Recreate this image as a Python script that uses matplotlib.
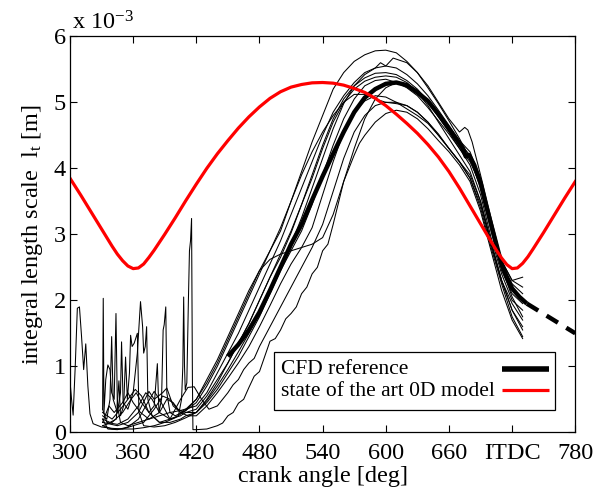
import matplotlib
matplotlib.use("Agg")
import matplotlib.pyplot as plt
from matplotlib.lines import Line2D
from matplotlib.patches import Rectangle

plt.rcParams['font.family'] = ['Liberation Serif', 'DejaVu Serif']
plt.rcParams['mathtext.fontset'] = 'custom'
plt.rcParams['mathtext.rm'] = 'Liberation Serif'
plt.rcParams['mathtext.it'] = 'Liberation Serif:italic'

# ---------------- data (length scale in units of 1e-3 m) ----------------
grid = [420, 430, 440, 450, 460, 470, 480, 490, 500, 510, 520, 530, 540, 550, 560, 570,
        580, 590, 600, 610, 620, 630, 640, 650, 660, 670, 680, 690, 700, 710, 720, 730]

c1_early_deg = [300, 301.5, 303, 305, 307, 309, 311, 313, 315, 317, 319, 322, 330, 340, 350, 360, 370, 380, 390, 400, 410]
c1_early_val = [0.78, 0.5, 0.26, 1.0, 1.88, 1.9, 1.45, 0.95, 1.34, 0.7, 0.28, 0.13, 0.08, 0.06, 0.05, 0.05, 0.07, 0.1, 0.15, 0.22, 0.33]
c1_main_val = [0.5, 0.75, 1.05, 1.4, 1.75, 2.1, 2.45, 2.75, 3.05, 3.5, 3.95, 4.4, 4.8, 5.2, 5.45, 5.62,
               5.72, 5.78, 5.79, 5.75, 5.62, 5.45, 5.22, 4.98, 4.72, 4.45, 4.15, 3.7, 3.1, 2.5, 2.05, 1.75]

c2_deg = [331, 331.6, 332.3, 334, 336, 338, 339.6, 342, 343.7, 345, 348, 355, 365, 375, 385, 395, 405,
          420, 430, 440, 450, 460, 470, 480, 490, 500, 510, 520, 530, 540, 550, 560, 570, 580, 590,
          595, 600, 607, 620, 630, 640, 650, 660, 670, 675, 678, 682, 690, 700, 710, 720, 730]
c2_val = [0.35, 2.03, 0.3, 0.8, 1.02, 0.95, 0.6, 0.5, 1.8, 0.4, 0.15, 0.1, 0.15, 0.2, 0.25, 0.3, 0.33,
          0.4, 0.6, 0.9, 1.2, 1.5, 1.85, 2.2, 2.55, 2.9, 3.3, 3.7, 4.1, 4.5, 4.85, 5.1, 5.3, 5.45, 5.52,
          5.6, 5.55, 5.67, 5.6, 5.45, 5.25, 5.0, 4.75, 4.55, 4.62, 4.58, 4.4, 3.9, 3.25, 2.6, 2.3, 2.2]

c3_early_deg = [331, 335, 338, 339.6, 341, 345, 348, 349, 350.5, 355, 360, 364, 367, 369, 370, 371.5, 372.8, 374, 378, 385, 395, 405, 410]
c3_early_val = [0.25, 0.2, 0.5, 1.45, 0.5, 0.3, 0.6, 1.37, 0.45, 0.35, 0.6, 1.2, 1.98, 1.6, 1.2, 1.3, 1.6, 0.5, 0.25, 0.15, 0.2, 0.25, 0.3]
c3_main_val = [0.35, 0.55, 0.8, 1.05, 1.35, 1.65, 2.0, 2.35, 2.65, 3.02, 3.45, 3.9, 4.35, 4.75, 5.05, 5.25,
               5.37, 5.44, 5.45, 5.42, 5.33, 5.2, 5.02, 4.82, 4.6, 4.38, 4.2, 3.75, 3.05, 2.45, 2.1, 1.95]

c4_early_deg = [331, 338, 344, 346.5, 348, 351, 352.8, 354.5, 356.5, 357.6, 359, 361, 364, 365.5, 370, 380, 390, 400, 410]
c4_early_val = [0.2, 0.15, 0.2, 0.78, 0.25, 0.4, 1.14, 0.5, 0.9, 1.47, 1.3, 1.35, 1.5, 0.3, 0.1, 0.08, 0.1, 0.15, 0.22]
c4_main_val = [0.3, 0.5, 0.75, 1.05, 1.35, 1.65, 2.0, 2.35, 2.7, 3.05, 3.45, 3.85, 4.3, 4.7, 5.0, 5.2,
               5.32, 5.38, 5.4, 5.38, 5.3, 5.15, 4.95, 4.7, 4.45, 4.2, 3.95, 3.5, 2.85, 2.3, 1.85, 1.6]

c5_early_deg = [331, 340, 350, 358, 363, 368, 375, 380, 383, 384.5, 387, 388.5, 389.5, 391, 392, 395, 400, 410]
c5_early_val = [0.1, 0.15, 0.3, 0.5, 0.6, 0.45, 0.3, 0.4, 1.04, 0.3, 0.5, 1.55, 1.63, 1.9, 0.6, 0.3, 0.25, 0.33]
c5_main_val = [0.45, 0.7, 1.0, 1.35, 1.7, 2.05, 2.4, 2.75, 3.1, 3.5, 3.9, 4.25, 4.55, 4.8, 5.0, 5.12,
               5.12, 5.05, 5.0, 4.98, 4.95, 4.85, 4.7, 4.5, 4.3, 4.1, 3.85, 3.4, 2.8, 2.25, 1.75, 1.45]

c6_early_deg = [331, 345, 355, 365, 375, 380, 388, 392, 398, 405, 410]
c6_early_val = [0.15, 0.1, 0.15, 0.3, 0.62, 0.5, 0.6, 0.67, 0.4, 0.3, 0.35]
c6_main_val = [0.5, 0.8, 1.1, 1.45, 1.8, 2.15, 2.45, 2.62, 2.7, 2.75, 2.8, 2.85, 2.95, 3.3, 3.8, 4.3,
               4.75, 5.05, 5.22, 5.3, 5.28, 5.18, 5.0, 4.78, 4.55, 4.3, 4.05, 3.6, 2.95, 2.4, 2.0, 1.85]

c7_deg = [331, 335, 345, 355, 365, 372, 378, 385, 395, 403, 406, 407.2, 408, 408.8, 409.5, 411, 412.5,
          413.5, 414.5, 415.5, 416.3, 416.8, 420, 430, 440, 445, 450, 455, 460, 465, 470, 475, 480,
          485, 490, 495, 500, 505, 510, 515, 520, 525, 530, 535, 540, 545, 550, 560, 570, 575, 580,
          590, 600, 610, 620, 630, 640, 650, 660, 670, 680, 690, 700, 710, 720, 730]
c7_val = [0.35, 0.15, 0.12, 0.2, 0.4, 0.6, 0.5, 0.3, 0.2, 0.25, 0.5, 1.0, 2.05, 1.0, 0.64, 0.75, 2.0,
          2.75, 2.9, 3.24, 0.8, 0.04, 0.04, 0.05, 0.1, 0.14, 0.25, 0.3, 0.44, 0.5, 0.68, 0.85, 0.92,
          1.15, 1.38, 1.42, 1.55, 1.72, 1.8, 1.9, 2.1, 2.2, 2.4, 2.5, 2.75, 2.85, 3.15, 3.8, 4.2, 4.38, 4.5,
          4.7, 4.83, 4.88, 4.85, 4.75, 4.6, 4.42, 4.25, 4.05, 3.8, 3.35, 2.75, 2.15, 1.7, 1.42]

c8_deg = [331, 336, 345, 355, 365, 372, 380, 385, 395, 405, 412, 418, 425, 432, 440, 445, 450, 455,
          460, 465, 470, 475, 480, 490, 500, 510, 520, 530, 540, 550, 560, 570, 580, 590, 600, 610,
          620, 630, 640, 650, 660, 670, 680, 690, 700, 710, 720, 730]
c8_val = [0.2, 0.05, 0.04, 0.08, 0.2, 0.4, 0.62, 0.5, 0.2, 0.5, 0.68, 0.69, 0.5, 0.35, 0.4, 0.5, 0.6,
          0.72, 0.8, 0.95, 1.05, 1.12, 1.3, 1.6, 1.9, 2.2, 2.5, 2.8, 3.15, 3.65, 4.15, 4.55, 4.8, 4.95, 5.0,
          5.0, 4.95, 4.85, 4.7, 4.52, 4.3, 4.1, 3.9, 3.5, 2.9, 2.3, 1.85, 1.55]

c9_early_deg = [331, 340, 348, 355, 362, 368, 375, 385, 395, 405, 410]
c9_early_val = [0.3, 0.2, 0.35, 0.5, 0.65, 0.55, 0.3, 0.15, 0.15, 0.2, 0.25]
c9_main_val = [0.3, 0.45, 0.65, 0.9, 1.15, 1.45, 1.75, 2.1, 2.45, 2.75, 3.05, 3.45, 3.9, 4.35, 4.75, 5.05,
               5.25, 5.33, 5.35, 5.3, 5.22, 5.1, 4.92, 4.72, 4.52, 4.3, 4.1, 3.75, 3.2, 2.6, 2.3, 2.35]

c10_early_deg = [331, 340, 350, 360, 370, 380, 388, 395, 402, 410]
c10_early_val = [0.1, 0.05, 0.05, 0.1, 0.15, 0.35, 0.55, 0.5, 0.35, 0.3]
c10_main_val = [0.3, 0.48, 0.7, 0.95, 1.22, 1.5, 1.82, 2.15, 2.5, 2.85, 3.25, 3.7, 4.15, 4.6, 4.98, 5.25,
                5.42, 5.52, 5.55, 5.52, 5.42, 5.28, 5.1, 4.88, 4.65, 4.42, 4.25, 3.85, 3.2, 2.55, 2.25, 2.1]

c11_early_deg = [331, 337, 342, 350, 355, 360, 367, 375, 385, 392, 398, 405, 412]
c11_early_val = [0.15, 0.4, 0.3, 0.45, 0.6, 0.45, 0.3, 0.2, 0.3, 0.5, 0.45, 0.3, 0.25]
c11_main_val = [0.25, 0.4, 0.6, 0.82, 1.05, 1.3, 1.6, 1.92, 2.25, 2.55, 2.8, 3.1, 3.6, 4.1, 4.55, 4.85,
                5.02, 5.1, 5.08, 5.0, 4.9, 4.8, 4.68, 4.5, 4.3, 4.1, 3.85, 3.45, 2.85, 2.3, 1.95, 1.7]

mean_deg = [450, 460, 470, 480, 490, 500, 510, 520, 530, 540, 550, 560, 570, 580, 590, 600, 610, 620,
            630, 640, 650, 660, 668, 673, 676, 679, 684, 690, 695, 700, 705, 710, 715, 720, 727, 734]
mean_val = [1.15, 1.33, 1.55, 1.82, 2.15, 2.5, 2.85, 3.15, 3.52, 3.88, 4.22, 4.55, 4.85, 5.07, 5.2, 5.28,
            5.3, 5.26, 5.15, 5.02, 4.82, 4.6, 4.42, 4.3, 4.18, 4.2, 4.05, 3.78, 3.45, 3.15, 2.85, 2.55,
            2.35, 2.18, 2.05, 1.95]
extrap_deg = [734, 780]
extrap_val = [1.95, 1.5]

red_deg = [300, 310, 320, 330, 340, 345, 350, 355, 360, 365, 370, 375, 380, 390, 400, 410, 420, 430,
           440, 450, 460, 470, 480, 490, 500, 510, 520, 530, 540, 550, 560, 570, 580, 590, 600, 610,
           620, 630, 640, 650, 660, 670, 680, 690, 700, 705, 710, 715, 720, 725, 730, 735, 740, 750,
           760, 770, 780]
red_val = [3.85, 3.6, 3.34, 3.08, 2.82, 2.7, 2.6, 2.52, 2.48, 2.49, 2.55, 2.65, 2.76, 3.0, 3.25, 3.51,
           3.76, 4.0, 4.22, 4.42, 4.61, 4.78, 4.93, 5.06, 5.16, 5.23, 5.27, 5.295, 5.3, 5.29, 5.26, 5.21,
           5.15, 5.06, 4.95, 4.82, 4.68, 4.53, 4.36, 4.17, 3.95, 3.7, 3.43, 3.16, 2.89, 2.76, 2.64, 2.54,
           2.48, 2.49, 2.56, 2.66, 2.78, 3.03, 3.29, 3.55, 3.8]

xticks = [300, 360, 420, 480, 540, 600, 660, 720, 780]
xticklabels = ['300', '360', '420', '480', '540', '600', '660', 'ITDC', '780']
yticks = [0, 1, 2, 3, 4, 5, 6]
legend_labels = ['CFD reference', 'state of the art 0D model']

# ---------------- figure ----------------
fig = plt.figure(figsize=(5.94, 4.94), dpi=100)
ax = fig.add_axes([0.1178, 0.1249, 0.8507, 0.8016])

thin = dict(color='black', lw=0.75)
cycles = [
    (c1_early_deg + grid, c1_early_val + c1_main_val),
    (c2_deg, c2_val),
    (c3_early_deg + grid, c3_early_val + c3_main_val),
    (c4_early_deg + grid, c4_early_val + c4_main_val),
    (c5_early_deg + grid, c5_early_val + c5_main_val),
    (c6_early_deg + grid, c6_early_val + c6_main_val),
    (c7_deg, c7_val),
    (c8_deg, c8_val),
    (c9_early_deg + grid, c9_early_val + c9_main_val),
    (c10_early_deg + grid, c10_early_val + c10_main_val),
    (c11_early_deg + grid, c11_early_val + c11_main_val),
]
for xs, ys in cycles:
    ax.plot(xs, ys, **thin)

ax.plot(mean_deg, mean_val, color='black', lw=3.2, solid_capstyle='butt', solid_joinstyle='round')
ax.plot(extrap_deg, extrap_val, color='black', lw=3.2, ls=(0, (3, 2.2)), dash_capstyle='butt')
ax.plot(red_deg, red_val, color='#ff0000', lw=2.3, solid_joinstyle='round')

ax.set_xlim(300, 780)
ax.set_ylim(0, 6)
ax.set_xticks(xticks)
ax.set_xticklabels(xticklabels)
ax.set_yticks(yticks)
ax.tick_params(direction='in', top=True, right=True, labelsize=17.5, length=5, width=0.8)
ax.tick_params(axis='x', pad=8)
ax.tick_params(axis='y', pad=3)
for s in ax.spines.values():
    s.set_linewidth(0.9)

ax.set_xlabel('crank angle [deg]', fontsize=17.5, labelpad=1)
ax.set_ylabel(r'integral length scale  l$_{\mathrm{t}}$ [m]', fontsize=17.5, labelpad=6)
fig.text(0.122, 0.978, r'x 10$^{-3}$', fontsize=17.5, ha='left', va='top')

# legend drawn MATLAB-style: text left, line samples on the right
W, H = 594.0, 494.0
fig.patches.append(Rectangle((274 / W, 1 - 410 / H), (555 - 274) / W, (410 - 352) / H,
                             transform=fig.transFigure, facecolor='white', edgecolor='black',
                             lw=0.9, zorder=5))
ys_leg = [1 - 369 / H, 1 - 391 / H]
for yl, lab in zip(ys_leg, legend_labels):
    fig.text(281 / W, yl, lab, fontsize=15.5, ha='left', va='center', zorder=6)
fig.add_artist(Line2D([502 / W, 549 / W], [ys_leg[0], ys_leg[0]], transform=fig.transFigure,
                      color='black', lw=4.0, solid_capstyle='butt', zorder=6))
fig.add_artist(Line2D([502 / W, 549 / W], [ys_leg[1] + 1 / H, ys_leg[1] + 1 / H], transform=fig.transFigure,
                      color='#ff0000', lw=2.3, solid_capstyle='butt', zorder=6))

fig.savefig('out.png', dpi=100)
